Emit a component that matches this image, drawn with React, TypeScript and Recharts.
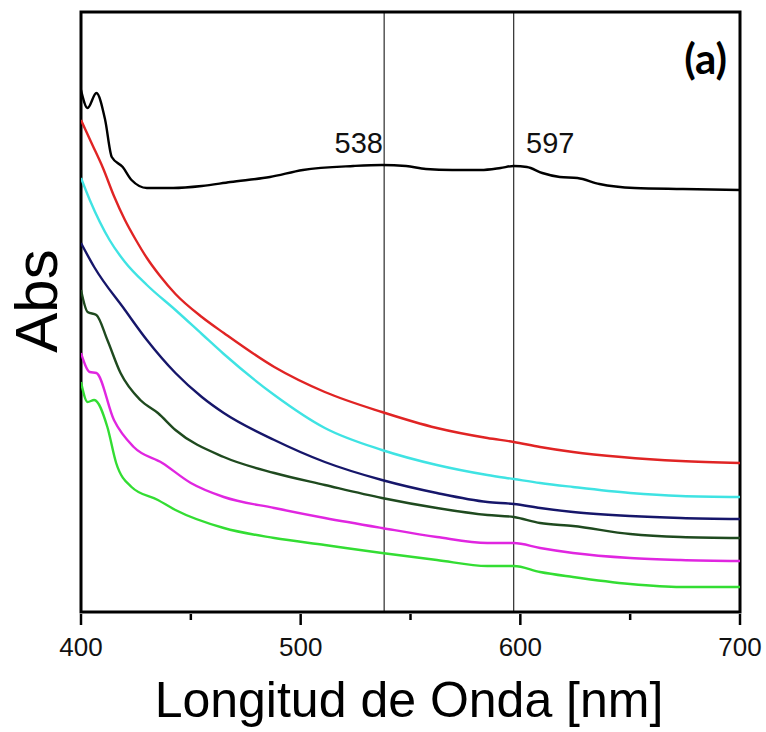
import { LineChart, Line, XAxis, YAxis, ReferenceLine, ReferenceArea } from "recharts"

// wavelength (nm) / absorbance (arbitrary units)
const blackNm = [400, 403, 407, 411, 414, 419, 423, 430, 442, 455, 468, 486, 501, 524, 537, 548, 557, 569, 582, 591, 597, 603, 610, 618, 626, 636, 652, 674, 700]
const blackAbs = [5.22, 5.04, 5.19, 4.92, 4.55, 4.45, 4.32, 4.24, 4.24, 4.26, 4.3, 4.35, 4.42, 4.46, 4.47, 4.46, 4.43, 4.42, 4.42, 4.44, 4.46, 4.45, 4.39, 4.35, 4.34, 4.28, 4.24, 4.23, 4.22]

const redNm = [400, 405, 410, 415, 420, 425, 430, 436, 443, 455, 465, 488, 511, 537, 562, 585, 597, 609, 624, 646, 673, 700]
const redAbs = [4.92, 4.68, 4.44, 4.16, 3.92, 3.72, 3.54, 3.36, 3.18, 2.95, 2.79, 2.45, 2.2, 2.0, 1.84, 1.74, 1.7, 1.65, 1.6, 1.55, 1.51, 1.49]

const cyanNm = [400, 404, 413, 420, 430, 443, 455, 465, 488, 511, 537, 562, 585, 597, 609, 624, 650, 673, 700]
const cyanAbs = [4.34, 4.12, 3.72, 3.5, 3.27, 3.02, 2.78, 2.58, 2.17, 1.84, 1.62, 1.47, 1.37, 1.33, 1.29, 1.25, 1.19, 1.16, 1.15]

const navyNm = [400, 406, 420, 430, 443, 455, 465, 488, 511, 537, 562, 585, 597, 609, 624, 650, 673, 700]
const navyAbs = [3.69, 3.45, 3.02, 2.72, 2.39, 2.15, 1.99, 1.72, 1.5, 1.32, 1.19, 1.1, 1.08, 1.04, 1.0, 0.96, 0.94, 0.93]

const darkGreenNm = [400, 403, 407, 412, 418, 427, 435, 443, 465, 488, 511, 537, 562, 585, 597, 609, 624, 650, 673, 700]
const darkGreenAbs = [3.22, 3.0, 2.97, 2.72, 2.39, 2.12, 1.99, 1.82, 1.55, 1.39, 1.27, 1.14, 1.04, 0.97, 0.95, 0.89, 0.86, 0.78, 0.75, 0.74]

const magentaNm = [400, 404, 407, 415, 424, 437, 450, 465, 488, 511, 537, 562, 585, 597, 609, 624, 650, 673, 700]
const magentaAbs = [2.59, 2.4, 2.39, 1.92, 1.65, 1.49, 1.29, 1.15, 1.04, 0.94, 0.84, 0.75, 0.69, 0.69, 0.64, 0.59, 0.54, 0.52, 0.51]

const greenNm = [400, 403, 406, 412, 416, 423, 435, 443, 465, 488, 511, 537, 562, 585, 597, 609, 624, 650, 673, 700]
const greenAbs = [2.3, 2.1, 2.12, 1.85, 1.49, 1.25, 1.12, 1.02, 0.84, 0.74, 0.67, 0.59, 0.52, 0.46, 0.46, 0.4, 0.35, 0.28, 0.25, 0.25]

const xTicks = [400, 450, 500, 550, 600, 650, 700]
const majorTicks = [400, 500, 600, 700]
const peakMarks = [538, 597]

const toPoints = (nm: number[], abs: number[]) => nm.map((x, i) => ({ nm: x, abs: abs[i] }))

const series = [
  { id: "black", color: "#000000", data: toPoints(blackNm, blackAbs) },
  { id: "red", color: "#e02424", data: toPoints(redNm, redAbs) },
  { id: "cyan", color: "#3fe3e3", data: toPoints(cyanNm, cyanAbs) },
  { id: "navy", color: "#16166a", data: toPoints(navyNm, navyAbs) },
  { id: "darkgreen", color: "#1f4a1f", data: toPoints(darkGreenNm, darkGreenAbs) },
  { id: "magenta", color: "#e026e0", data: toPoints(magentaNm, magentaAbs) },
  { id: "green", color: "#33dd33", data: toPoints(greenNm, greenAbs) },
]

const FONT = "'Liberation Sans', Arial, sans-serif"

function WaveTick(props: any) {
  const { x, y, payload } = props
  const major = majorTicks.includes(payload.value)
  return (
    <g>
      <line x1={x} x2={x} y1={y} y2={y + (major ? 11 : 6)} stroke="#000" strokeWidth={2.5} />
      {major && (
        <text x={x} y={y + 42} textAnchor="middle" fontFamily={FONT} fontSize={26} fill="#111">
          {payload.value}
        </text>
      )}
    </g>
  )
}

export default function App() {
  return (
    <div style={{ position: "absolute", left: 0, top: 0, width: 766, height: 732, background: "#fff" }}>
      <LineChart width={766} height={732} margin={{ top: 12, right: 26, left: 81, bottom: 90 }}>
        <XAxis
          dataKey="nm"
          type="number"
          domain={[400, 700]}
          ticks={xTicks}
          allowDataOverflow
          height={30}
          tickSize={0}
          tickLine={false}
          tick={<WaveTick />}
          axisLine={false}
        />
        <YAxis type="number" domain={[0, 6]} allowDataOverflow hide />
        {/* plot frame */}
        <ReferenceArea x1={400} x2={700} y1={0} y2={6} fill="none" stroke="#000" strokeWidth={3} ifOverflow="visible" />
        {peakMarks.map((p) => (
          <ReferenceLine key={p} x={p} stroke="#000" strokeWidth={1} />
        ))}
        {series.map((s) => (
          <Line
            key={s.id}
            data={s.data}
            dataKey="abs"
            type="monotone"
            stroke={s.color}
            strokeWidth={2.4}
            dot={false}
            isAnimationActive={false}
          />
        ))}
      </LineChart>
      <svg width={766} height={732} style={{ position: "absolute", left: 0, top: 0, pointerEvents: "none" }}>
        <text x={383} y={153} textAnchor="end" fontFamily={FONT} fontSize={29} fill="#111">
          538
        </text>
        <text x={526} y={153} textAnchor="start" fontFamily={FONT} fontSize={29} fill="#111">
          597
        </text>
        <text x={727} y={74} textAnchor="end" fontFamily="Lato, sans-serif" fontWeight={700} fontSize={42} fill="#000">
          (a)
        </text>
        <text x={409} y={717} textAnchor="middle" fontFamily={FONT} fontSize={50} fill="#000">
          Longitud de Onda [nm]
        </text>
        <text
          x={0}
          y={0}
          transform="translate(57 301) rotate(-90)"
          textAnchor="middle"
          fontFamily={FONT}
          fontSize={60}
          fill="#000"
        >
          Abs
        </text>
      </svg>
    </div>
  )
}
